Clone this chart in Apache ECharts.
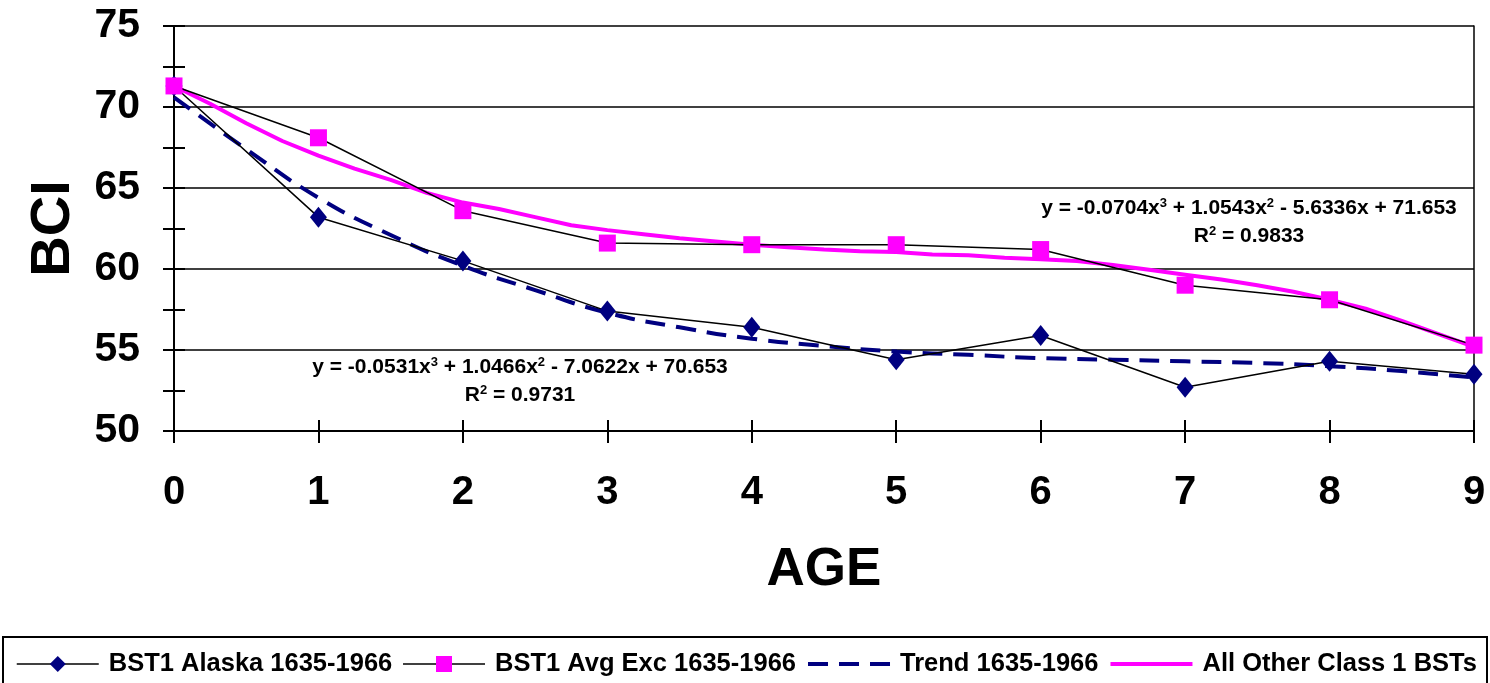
<!DOCTYPE html>
<html>
<head>
<meta charset="utf-8">
<script src="https://cdn.jsdelivr.net/npm/echarts@6/dist/echarts.min.js"></script>
<style>
  html, body { margin: 0; padding: 0; background: #ffffff; }
  #chart { width: 1490px; height: 683px; }
</style>
</head>
<body>
<div id="chart"></div>
<script>
// Body condition index (BCI) by age
const ages = [0, 1, 2, 3, 4, 5, 6, 7, 8, 9];
const alaska = [71.3, 63.2, 60.5, 57.4, 56.4, 54.4, 55.9, 52.7, 54.3, 53.5];
const avgExc = [71.3, 68.1, 63.6, 61.6, 61.5, 61.5, 61.2, 59.0, 58.1, 55.3];

// Trend curve for 1635-1966, sampled every half year
const trendAges = [0, 0.5, 1, 1.5, 2, 2.5, 3, 3.5, 4, 4.5, 5, 5.5, 6, 6.5, 7, 7.5, 8, 8.5, 9];
const trendVals = [70.6, 67.4, 64.4, 62.1, 60.2, 58.7, 57.3, 56.4, 55.7, 55.25, 54.9, 54.7, 54.5, 54.4, 54.3, 54.2, 54.0, 53.7, 53.3];

// All other Class 1 BSTs, sampled every quarter year
const otherAges = [0, 0.25, 0.5, 0.75, 1, 1.25, 1.5, 1.75, 2, 2.25, 2.5, 2.75, 3, 3.25, 3.5, 3.75, 4, 4.25, 4.5,
                   4.75, 5, 5.25, 5.5, 5.75, 6, 6.25, 6.5, 6.75, 7, 7.25, 7.5, 7.75, 8, 8.25, 8.5, 8.75, 9];
const otherVals = [71.3, 70.2, 69.0, 67.9, 67.0, 66.2, 65.5, 64.7, 64.1, 63.7, 63.2, 62.7, 62.4, 62.15, 61.9, 61.7, 61.5, 61.35, 61.2,
                   61.1, 61.05, 60.9, 60.85, 60.7, 60.6, 60.5, 60.25, 59.95, 59.65, 59.35, 59.0, 58.6, 58.1, 57.55, 56.8, 56.0, 55.2];

const seriesNames = ['BST1 Alaska 1635-1966', 'BST1 Avg Exc 1635-1966', 'Trend 1635-1966', 'All Other Class 1 BSTs'];
const yTicks = [50, 55, 60, 65, 70, 75];

// Fitted equations, with {s|...} marking superscripts
const eqAlaska = ['y = -0.0531x{s|3} + 1.0466x{s|2} - 7.0622x + 70.653', 'R{s|2} = 0.9731'];
const eqOther = ['y = -0.0704x{s|3} + 1.0543x{s|2} - 5.6336x + 71.653', 'R{s|2} = 0.9833'];

const FONT = '"Liberation Sans", Arial, sans-serif';
const zip = (xs, ys) => xs.map((x, i) => [x, ys[i]]);

const chart = echarts.init(document.getElementById('chart'), null, { renderer: 'canvas' });

const eqText = (lines, cx, cy) => lines.map((t, i) => ({
  type: 'text',
  x: cx,
  y: cy + i * 28,
  style: {
    text: t,
    fontFamily: FONT, fontWeight: 'bold', fontSize: 21, fill: '#000',
    align: 'center', verticalAlign: 'middle',
    rich: {
      s: { fontFamily: FONT, fontWeight: 'bold', fontSize: 13, fill: '#000', padding: [0, 0, 9, 0] }
    }
  },
  z: 50
}));

chart.setOption({
  animation: false,
  backgroundColor: '#ffffff',
  grid: { left: 174, right: 16, top: 26, bottom: 252, containLabel: false },
  xAxis: [
    {
      type: 'value', min: 0, max: 9, interval: 1,
      name: 'AGE', nameLocation: 'middle', nameGap: 113,
      nameTextStyle: { fontFamily: FONT, fontWeight: 'bold', fontSize: 53, color: '#000' },
      axisLine: { show: true, onZero: false, lineStyle: { color: '#000', width: 2 } },
      axisTick: { show: true, length: 12, lineStyle: { color: '#000', width: 2 } },
      axisLabel: { margin: 42, fontFamily: FONT, fontWeight: 'bold', fontSize: 40, color: '#000' },
      splitLine: { show: false }
    },
    {
      type: 'value', min: 0, max: 9, interval: 1, position: 'bottom',
      axisLine: { show: false },
      axisTick: { show: true, inside: true, length: 11, lineStyle: { color: '#000', width: 2 } },
      axisLabel: { show: false },
      splitLine: { show: false }
    }
  ],
  yAxis: [
    {
      type: 'value', min: yTicks[0], max: yTicks[yTicks.length - 1], interval: 5,
      name: 'BCI', nameLocation: 'middle', nameGap: 92, nameRotate: 90,
      nameTextStyle: { fontFamily: FONT, fontWeight: 'bold', fontSize: 56, color: '#000' },
      axisLine: { show: true, onZero: false, lineStyle: { color: '#000', width: 2 } },
      axisTick: { show: true, length: 11, lineStyle: { color: '#000', width: 2 } },
      minorTick: { show: true, splitNumber: 2, length: 11, lineStyle: { color: '#000', width: 2 } },
      axisLabel: { margin: 34, fontFamily: FONT, fontWeight: 'bold', fontSize: 41, color: '#000' },
      splitLine: { show: true, lineStyle: { color: '#000', width: 1.5 } }
    },
    {
      type: 'value', min: yTicks[0], max: yTicks[yTicks.length - 1], interval: 5, position: 'left',
      axisLine: { show: false },
      axisTick: { show: true, inside: true, length: 11, lineStyle: { color: '#000', width: 2 } },
      minorTick: { show: true, splitNumber: 2, length: 11, lineStyle: { color: '#000', width: 2 } },
      axisLabel: { show: false },
      splitLine: { show: false }
    },
    {
      type: 'value', min: yTicks[0], max: yTicks[yTicks.length - 1], interval: 5, position: 'right',
      axisLine: { show: true, onZero: false, lineStyle: { color: '#000', width: 1.5 } },
      axisTick: { show: false },
      axisLabel: { show: false },
      splitLine: { show: false }
    }
  ],
  legend: {
    left: 16, top: 651, width: 1472,
    padding: 0,
    itemWidth: 82, itemHeight: 20, itemGap: 10,
    textStyle: { fontFamily: FONT, fontWeight: 'bold', fontSize: 25.5, color: '#000', padding: [0, 0, 0, 5] },
    data: [
      { name: seriesNames[0], lineStyle: { width: 1.5 } },
      { name: seriesNames[1], lineStyle: { width: 1.5 } },
      { name: seriesNames[2], lineStyle: { width: 4 }, itemStyle: { opacity: 0 } },
      { name: seriesNames[3], lineStyle: { width: 4 }, itemStyle: { opacity: 0 } }
    ]
  },
  graphic: [
    {
      type: 'rect',
      shape: { x: 3, y: 637, width: 1484, height: 70 },
      style: { fill: 'none', stroke: '#000', lineWidth: 2 },
      z: 0
    },
    ...eqText(eqAlaska, 520, 367),
    ...eqText(eqOther, 1249, 208)
  ],
  series: [
    {
      name: seriesNames[3], type: 'line', data: zip(otherAges, otherVals),
      symbol: 'none', smooth: false,
      lineStyle: { color: '#FF00FF', width: 4 },
      itemStyle: { color: '#FF00FF' },
      z: 2
    },
    {
      name: seriesNames[2], type: 'line', data: zip(trendAges, trendVals),
      symbol: 'none', smooth: true,
      lineStyle: { color: '#000080', width: 4, type: [20, 11] },
      itemStyle: { color: '#000080' },
      z: 3
    },
    {
      name: seriesNames[0], type: 'line', data: zip(ages, alaska),
      symbol: 'diamond', symbolSize: [17, 21],
      lineStyle: { color: '#000', width: 1.5 },
      itemStyle: { color: '#000080', borderWidth: 0 },
      z: 4
    },
    {
      name: seriesNames[1], type: 'line', data: zip(ages, avgExc),
      symbol: 'rect', symbolSize: 17,
      lineStyle: { color: '#000', width: 1.5 },
      itemStyle: { color: '#FF00FF', borderWidth: 0 },
      z: 5
    }
  ]
});
</script>
</body>
</html>
